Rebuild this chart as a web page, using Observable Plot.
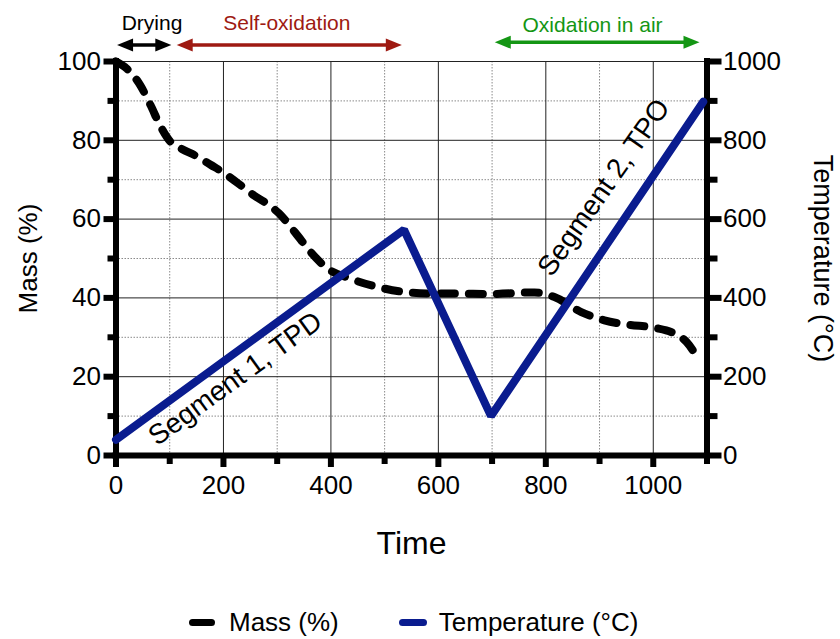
<!DOCTYPE html>
<html><head><meta charset="utf-8">
<script src="https://cdn.jsdelivr.net/npm/d3@7"></script>
<script src="https://cdn.jsdelivr.net/npm/@observablehq/plot@0.6"></script>
<style>
body{margin:0;background:#fff;font-family:"Liberation Sans",Arial,sans-serif;}
#wrap{position:relative;width:840px;height:639px;}
#wrap svg{font-family:"Liberation Sans",Arial,sans-serif !important;}
#legend{position:absolute;left:0;top:604px;width:840px;height:36px;display:flex;align-items:center;padding-left:189px;box-sizing:border-box;font-size:26px;color:#000;}
.item{display:flex;align-items:center;white-space:nowrap;}
.sw{display:inline-block;width:26px;height:7px;border-radius:4px;margin-right:14px;}
</style></head><body><div id="wrap"></div>
<script>
// Mass (%) vs time
const massTime  = [0, 20, 45, 64, 83, 101, 120, 151, 176, 201, 226, 257, 280, 303, 334, 362, 393, 436, 486, 536, 586, 635, 698, 779, 816, 866, 909, 953, 1003, 1040, 1062, 1084];
const massValue = [100, 98.2, 94, 89, 83.5, 79.7, 78, 75.9, 73.8, 71.7, 69.2, 66, 64, 61.5, 56.5, 51.7, 47.5, 44.9, 42.8, 41.5, 41.1, 41.1, 41.0, 41.4, 40.2, 36.4, 34.3, 33.2, 32.4, 30.9, 28.8, 24.4];
// Temperature (°C) vs time
const tempTime  = [0, 536, 698, 1093];
const tempValue = [40, 573, 100, 898];
// Ticks
const xMajor = [0, 200, 400, 600, 800, 1000];
const xMinor = [100, 300, 500, 700, 900, 1100];
const yMajor = [0, 20, 40, 60, 80, 100];
const yMinor = [10, 30, 50, 70, 90];
// Phase annotations
const phaseNames = ["Drying", "Self-oxidation", "Oxidation in air"];
const phaseStart = [2, 113, 705];
const phaseEnd   = [103, 532, 1086];
const phaseLabelX = [67, 318, 887];
const phaseColors = ["#000000", "#9e1a12", "#149614"];
// Segment labels
const segNames = ["Segment 1, TPD", "Segment 2, TPO"];
const segTime = [222, 908];
const segMass = [19.5, 68];
const segAngle = [-36, -55];

const BLUE = "#0a1c8f";
const massData = massTime.map((t, i) => ({t, v: massValue[i]}));
const tempData = tempTime.map((t, i) => ({t, v: tempValue[i] / 10}));
const phases = phaseNames.map((name, i) => ({name, a: phaseStart[i], b: phaseEnd[i], lx: phaseLabelX[i], color: phaseColors[i], y: i === 2 ? 104.9 : 104.2, ly: i === 2 ? 109.2 : 109.6}));
const heads = phases.flatMap(p => [{x: p.a, y: p.y, rot: 180, color: p.color}, {x: p.b, y: p.y, rot: 0, color: p.color}]);
const segs = segNames.map((s, i) => ({s, t: segTime[i], m: segMass[i], r: segAngle[i]}));

const arrowHead = {draw(ctx) { const L = 16, H = 13; ctx.moveTo(0, 0); ctx.lineTo(-L, -H / 2); ctx.lineTo(-L, H / 2); ctx.closePath(); }};
const FONT = '"Liberation Sans", Arial, sans-serif';

const chart = Plot.plot({
  width: 840, height: 580,
  marginLeft: 115.5, marginRight: 133.5, marginTop: 61, marginBottom: 125,
  style: {fontFamily: FONT, background: "white", overflow: "visible"},
  x: {domain: [0, 1100], axis: null},
  y: {domain: [0, 100], axis: null},
  marks: [
    Plot.gridX(xMinor, {stroke: "#8a8a8a", strokeOpacity: 1, strokeWidth: 1, strokeDasharray: "1.5,1.5"}),
    Plot.gridY(yMinor, {stroke: "#8a8a8a", strokeOpacity: 1, strokeWidth: 1, strokeDasharray: "1.5,1.5"}),
    Plot.gridX(xMajor, {stroke: "#222", strokeOpacity: 1, strokeWidth: 1}),
    Plot.gridY(yMajor, {stroke: "#222", strokeOpacity: 1, strokeWidth: 1}),
    // thick axis lines
    Plot.ruleX([0, 1100], {y1: 0, y2: 100, stroke: "black", strokeWidth: 6, strokeLinecap: "square"}),
    Plot.ruleY([0], {x1: 0, x2: 1100, stroke: "black", strokeWidth: 6, strokeLinecap: "square"}),
    // left axis
    Plot.axisY(yMajor, {anchor: "left", tickSize: 12, tickPadding: 3, strokeWidth: 6, fontSize: 26, label: null, tickFormat: d => String(d)}),
    Plot.axisY(yMinor, {anchor: "left", tickSize: 8, strokeWidth: 6, text: null, label: null}),
    // right axis
    Plot.axisY(yMajor, {anchor: "right", tickSize: 14, tickPadding: 2, strokeWidth: 6, fontSize: 26, label: null, tickFormat: d => String(d * 10)}),
    Plot.axisY(yMinor, {anchor: "right", tickSize: 10, strokeWidth: 6, text: null, label: null}),
    // bottom axis
    Plot.axisX(xMajor, {anchor: "bottom", tickSize: 12, tickPadding: 8, strokeWidth: 6, fontSize: 26, label: null, tickFormat: d => String(d)}),
    Plot.axisX(xMinor, {anchor: "bottom", tickSize: 9, strokeWidth: 6, text: null, label: null}),
    // axis titles
    Plot.text(["Mass (%)"], {x: -163, y: 50, rotate: -90, fontSize: 26, fill: "black"}),
    Plot.text(["Temperature (°C)"], {x: 1316, y: 50, rotate: 90, fontSize: 27, fill: "black"}),
    Plot.text(["Time"], {x: 550, y: -22.3, fontSize: 32, fill: "black"}),
    // phase annotations
    Plot.ruleY(phases, {y: "y", x1: d => d.a + 15, x2: d => d.b - 15, stroke: "color", strokeWidth: 3.5}),
    Plot.dot(heads, {x: "x", y: "y", rotate: "rot", symbol: arrowHead, fill: "color", stroke: null, r: 5}),
    Plot.text(phases, {x: "lx", y: "ly", text: "name", fill: "color", fontSize: 21}),
    // data
    Plot.line(massData, {x: "t", y: "v", stroke: "black", strokeWidth: 8, strokeDasharray: "14,14", strokeLinecap: "round", curve: "monotone-x"}),
    Plot.line(tempData, {x: "t", y: "v", stroke: BLUE, strokeWidth: 8, strokeLinecap: "round", strokeLinejoin: "miter"}),
    // segment labels
    Plot.text(segs, {x: "t", y: "m", text: "s", rotate: "r", fontSize: 28, fill: "black"})
  ]
});
const wrap = document.getElementById("wrap");
wrap.appendChild(chart);
const legend = document.createElement("div");
legend.id = "legend";
legend.innerHTML = `<div class="item" style="margin-right:60px"><span class="sw" style="background:#000"></span>Mass (%)</div>` +
  `<div class="item"><span class="sw" style="background:${BLUE};width:28px;margin-right:12px"></span>Temperature (°C)</div>`;
wrap.appendChild(legend);
</script></body></html>
